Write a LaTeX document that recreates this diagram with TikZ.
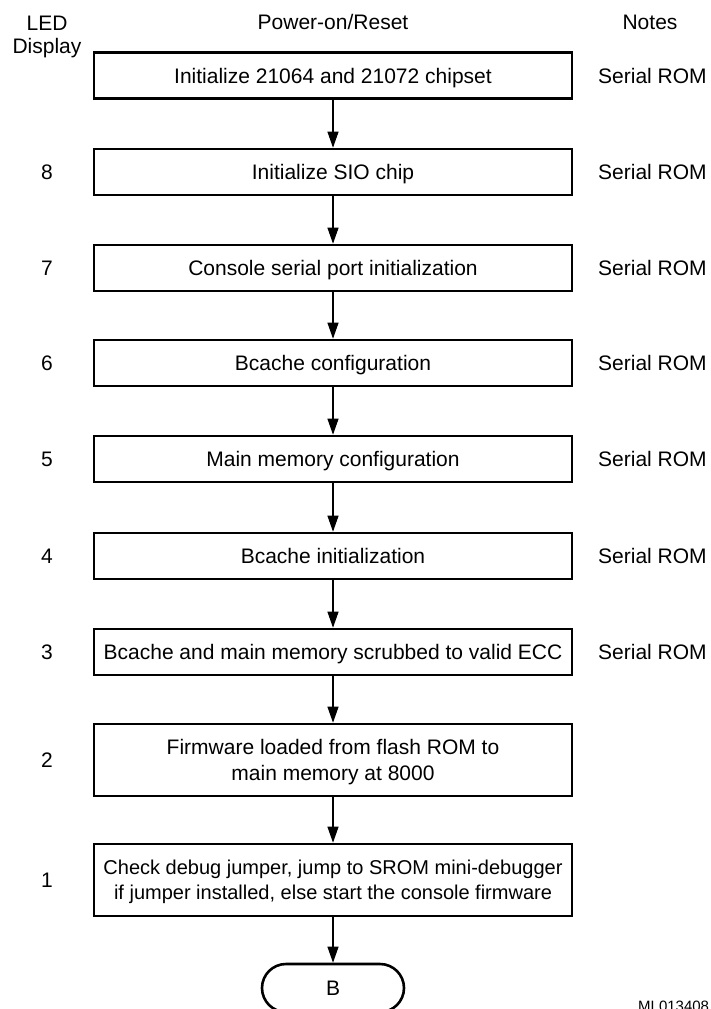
\documentclass[tikz,border=0pt]{standalone}
\usepackage{fontspec}
\setmainfont{Liberation Sans}
\usetikzlibrary{arrows.meta,shapes.misc}

\newcommand{\topstrut}[1]{\rule{0pt}{#1}}

\begin{document}
\begin{tikzpicture}[x=1pt,y=-1pt,
  every node/.style={font=\fontsize{21}{25.5}\selectfont, inner sep=0pt},
  boxline/.style={draw, line width=2.6pt, minimum width=478pt, align=center},
  stepbox/.style={boxline, minimum height=46pt, text height=15pt, text depth=0pt},
  tallbox/.style={boxline, minimum height=72pt},
  endbox/.style={draw, line width=2.6pt, rounded rectangle, minimum width=142pt,
    minimum height=48pt, text height=15pt, text depth=0pt},
  ledcode/.style={text height=15pt, text depth=0pt},
  note/.style={anchor=west, text height=15pt, text depth=0pt},
  head/.style={anchor=base},
  flow/.style={line width=1.1pt, -{Triangle[width=11pt,length=16pt]}}
]
\useasboundingbox (0,0) rectangle (711,1009);

% column headings
\node[head] (hled)   at (47,30)  {LED};
\node[head] (hdisp)  at (47,53.5){Display};
\node[head] (hpower) at (333,29) {Power-on/Reset};
\node[head] (hnotes) at (650,29) {Notes};

% boot steps
\node[stepbox] (s1) at (333,75.5) {Initialize 21064 and 21072 chipset};
\node[stepbox] (s2) at (333,172)  {Initialize SIO chip};
\node[stepbox] (s3) at (333,268)  {Console serial port initialization};
\node[stepbox] (s4) at (333,363)  {Bcache configuration};
\node[stepbox] (s5) at (333,459)  {Main memory configuration};
\node[stepbox] (s6) at (333,556)  {Bcache initialization};
\node[stepbox] (s7) at (333,652)  {Bcache and main memory scrubbed to valid ECC};
\node[tallbox] (s8) at (333,760)
  {\topstrut{19.4pt}Firmware loaded from flash ROM to\\main memory at 8000};
\node[tallbox, font=\fontsize{20}{25}\selectfont] (s9) at (333,880)
  {\topstrut{18.5pt}Check debug jumper, jump to SROM mini-debugger\\if jumper installed, else start the console firmware};
\node[endbox]  (b)  at (333,988)  {B};

% LED display codes
\node[ledcode] (d8) at (47,172) {8};
\node[ledcode] (d7) at (47,268) {7};
\node[ledcode] (d6) at (47,363) {6};
\node[ledcode] (d5) at (47,459) {5};
\node[ledcode] (d4) at (47,556) {4};
\node[ledcode] (d3) at (47,652) {3};
\node[ledcode] (d2) at (47,760) {2};
\node[ledcode] (d1) at (47,880) {1};

% notes
\node[note] (n1) at (598,75.5) {Serial ROM};
\node[note] (n2) at (598,172)  {Serial ROM};
\node[note] (n3) at (598,268)  {Serial ROM};
\node[note] (n4) at (598,363)  {Serial ROM};
\node[note] (n5) at (598,459)  {Serial ROM};
\node[note] (n6) at (598,556)  {Serial ROM};
\node[note] (n7) at (598,652)  {Serial ROM};

% figure tag
\node[anchor=base west, font=\fontsize{15}{18}\selectfont] (tag) at (638,1011) {ML013408};

% flow
\draw[flow] (s1) -- (s2);
\draw[flow] (s2) -- (s3);
\draw[flow] (s3) -- (s4);
\draw[flow] (s4) -- (s5);
\draw[flow] (s5) -- (s6);
\draw[flow] (s6) -- (s7);
\draw[flow] (s7) -- (s8);
\draw[flow] (s8) -- (s9);
\draw[flow] (s9) -- (b);
\end{tikzpicture}
\end{document}
